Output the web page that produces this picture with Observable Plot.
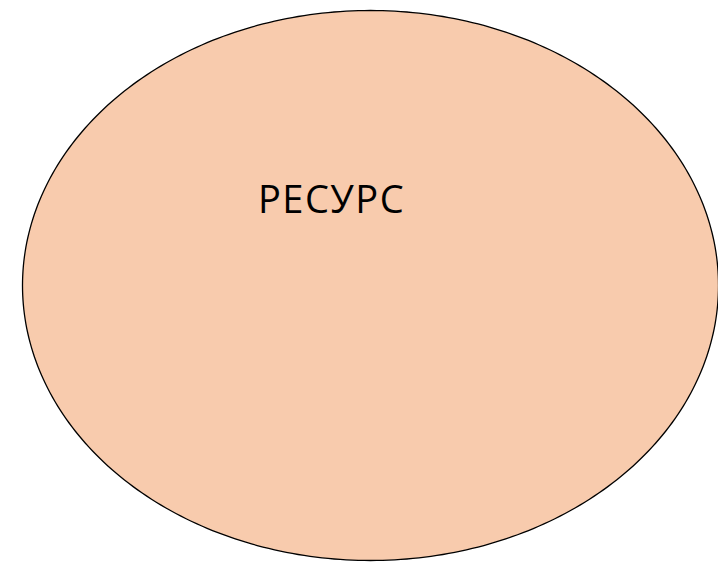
<!DOCTYPE html>
<html>
<head>
<meta charset="utf-8">
<script src="https://cdn.jsdelivr.net/npm/d3@7"></script>
<script src="https://cdn.jsdelivr.net/npm/@observablehq/plot@0.6"></script>
<style>
  html, body { margin: 0; padding: 0; background: #fff; }
</style>
</head>
<body>
<div id="chart"></div>
<script>
// Shape parameters (in a 718 x 562 unit space)
const shapeCenter = [370, 285];
const shapeRadii = [348, 275];
const labels = ["РЕСУРС"];
const labelPos = [[331, 200]];

// Outline of the ellipse (geometry)
const N = 360;
const outline = d3.range(N).map(i => {
  const t = (i / N) * 2 * Math.PI;
  return {x: shapeCenter[0] + shapeRadii[0] * Math.cos(t), y: shapeCenter[1] + shapeRadii[1] * Math.sin(t)};
});
const labelData = labels.map((t, i) => ({text: t, x: labelPos[i][0], y: labelPos[i][1]}));

const chart = Plot.plot({
  width: 718,
  height: 562,
  margin: 0,
  x: {domain: [0, 718], axis: null},
  y: {domain: [562, 0], axis: null},
  style: {background: "#fff", letterSpacing: "1.5px"},
  marks: [
    Plot.line(outline, {x: "x", y: "y", fill: "#F8CBAD", stroke: "#000", strokeWidth: 1.3, curve: "linear-closed"}),
    Plot.text(labelData, {x: "x", y: "y", text: "text", fontSize: 38, fill: "#000", fontFamily: "Open Sans", textAnchor: "middle"})
  ]
});
document.getElementById("chart").appendChild(chart);
</script>
</body>
</html>
